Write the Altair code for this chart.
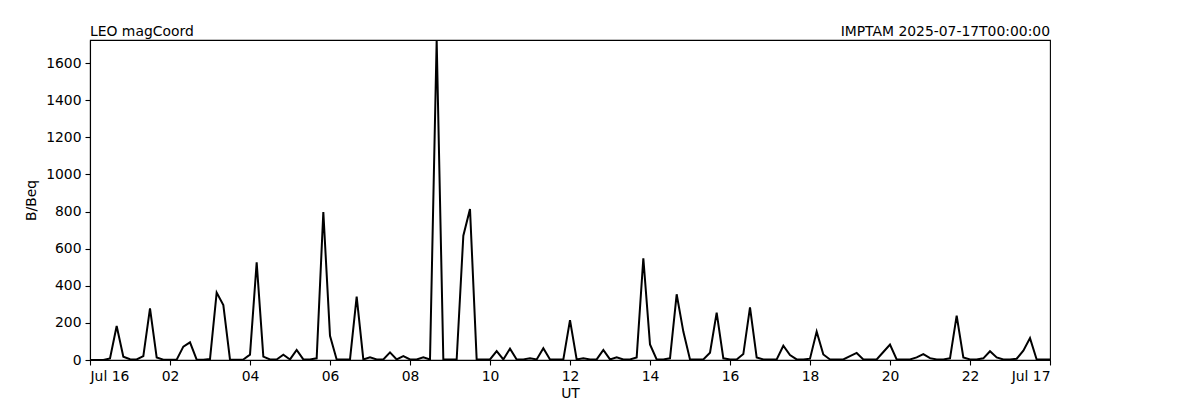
import altair as alt
import pandas as pd

# 10-minute samples from 2025-07-16 00:00 UT to 2025-07-17 00:00 UT
minutes = list(range(0, 1441, 10))
b_beq = [
    0, 0, 0, 8, 183, 18, 4, 3, 21, 278, 14, 2,
    2, 2, 72, 95, 2, 2, 5, 363, 296, 2, 2, 3,
    29, 526, 18, 3, 3, 29, 3, 54, 3, 3, 9, 797,
    130, 3, 3, 3, 342, 3, 14, 3, 3, 41, 3, 21,
    3, 3, 14, 3, 1724, 3, 3, 3, 670, 813, 3, 3,
    3, 48, 3, 61, 3, 3, 10, 3, 63, 3, 3, 3,
    215, 3, 10, 3, 3, 54, 3, 14, 3, 3, 14, 548,
    84, 3, 3, 9, 354, 153, 3, 3, 3, 39, 255, 9,
    3, 3, 32, 284, 14, 3, 3, 3, 77, 27, 3, 3,
    7, 153, 30, 3, 3, 3, 21, 38, 3, 3, 3, 43,
    83, 3, 3, 3, 14, 32, 10, 3, 3, 9, 239, 14,
    3, 3, 9, 47, 14, 3, 3, 7, 50, 118, 3, 3,
    3,
]
x_ticks = list(range(0, 25, 2))
y_ticks = [0, 200, 400, 600, 800, 1000, 1200, 1400, 1600]
title_left = ["LEO magCoord"]
title_right = ["IMPTAM 2025-07-17T00:00:00"]

df = pd.DataFrame({"hour": [m / 60 for m in minutes], "value": b_beq})

FONT = "DejaVu Sans"
FS = 13.9

line = alt.Chart(df).mark_line(color="black", strokeWidth=2, clip=True).encode(
    x=alt.X(
        "hour:Q",
        scale=alt.Scale(domain=[0, 24], nice=False, zero=False),
        axis=alt.Axis(
            values=x_ticks,
            title="UT",
            labelExpr="datum.value == 0 ? 'Jul 16' : datum.value == 24 ? 'Jul 17' : (datum.value < 10 ? '0' : '') + datum.value",
            titlePadding=4,
        ),
    ),
    y=alt.Y(
        "value:Q",
        scale=alt.Scale(domain=[0, max(b_beq)], nice=False),
        axis=alt.Axis(values=y_ticks, title="B/Beq", titlePadding=7, format="d"),
    ),
)

left_title = alt.Chart(pd.DataFrame({"t": title_left})).mark_text(
    align="left", baseline="alphabetic", font=FONT, fontSize=FS, color="black"
).encode(x=alt.value(0), y=alt.value(-4), text="t:N")

right_title = alt.Chart(pd.DataFrame({"t": title_right})).mark_text(
    align="right", baseline="alphabetic", font=FONT, fontSize=FS, color="black"
).encode(x=alt.value(960), y=alt.value(-4), text="t:N")

chart = (
    alt.layer(line, left_title, right_title)
    .properties(
        width=960,
        height=320,
        autosize=alt.AutoSizeParams(type="none"),
        padding={"left": 82, "top": 32, "right": 100, "bottom": 40},
    )
    .configure_view(stroke="black", strokeWidth=1.1)
    .configure_axis(
        grid=False,
        labelFont=FONT,
        labelFontSize=FS,
        labelColor="black",
        titleFont=FONT,
        titleFontSize=FS,
        titleFontWeight="normal",
        titleColor="black",
        domainColor="black",
        domainWidth=1.1,
        tickColor="black",
        tickWidth=1.1,
        tickSize=5,
        labelPadding=4,
    )
)

chart.save("out.html", embed_options={"renderer": "svg", "actions": False})
